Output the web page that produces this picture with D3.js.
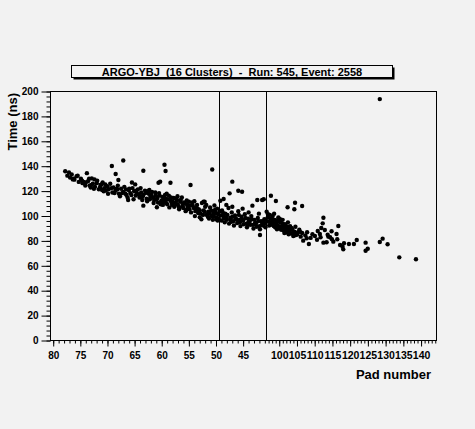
<!DOCTYPE html>
<html><head><meta charset="utf-8">
<script src="https://cdn.jsdelivr.net/npm/d3@7"></script>
<style>
html,body{margin:0;padding:0;background:#f2f2f2;}
svg{display:block;font-family:"Liberation Sans",Arial,Helvetica,sans-serif;}
</style></head>
<body>
<svg id="c" width="475" height="429"></svg>
<script>
// ---- data ----
const titleText = "ARGO-YBJ  (16 Clusters)  -  Run: 545, Event: 2558";
const yTitle = "Time (ns)";
const xTitle = "Pad number";
const yTicks = [0,20,40,60,80,100,120,140,160,180,200];
const leftTicks = [80,75,70,65,60,55,50,45];
const rightTicks = [100,105,110,115,120,125,130,135,140];
const leftDomain = [80.5, 40.6];
const rightDomain = [96.55, 144.35];
const yDomain = [0, 200];
const dividerPads = [49.3];

// left section (pads decreasing)
const leftPads = [
77.7,77.3,76.8,76.5,76.0,75.6,75.2,74.8,73.7,
74.5,74.0,73.5,73.0,72.6,72.2,71.8,71.5,71.2,70.8,70.5,70.2,72.8,72.3,
71.0,70.6,70.0,69.7,69.4,69.0,68.8,68.4,68.0,67.8,67.4,67.0,66.8,66.4,66.0,65.7,65.3,
69.1,67.0,68.4,67.9,66.1,
65.0,64.7,64.3,64.0,63.7,63.3,63.0,62.7,62.3,62.0,61.7,61.3,61.0,60.7,60.4,60.0,
64.5,63.5,62.5,61.5,60.6,65.4,64.8,63.3,63.3,60.5,60.2,60.8,
59.8,59.5,59.2,58.9,58.6,58.3,58.0,57.7,57.4,57.1,56.8,56.5,56.2,55.9,55.6,55.3,55.0,54.7,
59.0,58.1,57.0,56.0,55.4,59.4,59.2,58.3,54.6,
54.3,54.0,53.7,53.4,53.1,52.8,52.5,52.2,51.9,51.6,51.3,51.0,50.7,50.4,50.1,49.8,49.5,49.2,
53.9,52.9,52.0,51.2,50.2,49.6,50.6,52.2,49.1,
48.8,48.5,48.2,47.9,47.6,47.3,47.0,46.7,46.4,46.1,45.8,45.5,45.2,44.9,44.6,44.3,44.0,43.7,43.4,43.1,42.8,42.5,42.2,41.9,41.6,41.3,41.0,40.8,
48.0,46.9,45.0,43.9,42.0,
46.9,45.8,45.1,47.4,42.3,41.4,41.1,43.2,48.5,41.8,
76.2,74.3,73.2,69.9,68.2,66.6,63.9,62.1,59.6,57.9,56.7,55.1,53.2,51.5,50.5,49.9,48.4,47.1,45.6,44.1,42.7,41.2,
65.9,65.5,65.1,64.6,64.2,63.8,63.4,62.9,62.6,62.2,61.8,61.4,61.1,60.9,60.3,60.1,
59.9,59.7,59.3,59.1,58.8,58.5,58.2,57.9,57.6,57.3,57.0,56.7,56.4,56.1,55.8,55.5,55.2,54.9,
54.8,54.5,54.2,53.8,53.5,53.2,52.9,52.6,52.3,52.0,51.7,51.4,51.1,50.8,50.5,50.3,49.9,49.7,49.4,49.1,
48.9,48.6,48.3,48.1,47.8,47.5,47.2,46.9,46.6,46.3,46.0,45.7,45.4,45.1,44.8,44.5,44.2,43.9,43.6,43.3,43.0,42.7,42.4,42.1,41.8,41.5,41.2,40.9,
77.0,76.3,75.4,74.6,73.9,73.3,72.9,72.4,71.9,71.3,70.9,70.3,69.8,69.2,68.6,68.1,67.6,67.2,66.5,66.2
];
const leftTimes = [
135.5,132.0,130.5,133.0,128.8,131.5,127.0,129.5,134.0,
126.0,124.0,127.5,122.5,125.5,123.0,128.0,121.0,124.5,126.5,122.0,120.0,129.8,129.0,
125.0,119.5,123.5,121.0,125.5,118.5,122.5,120.0,124.0,117.5,121.5,119.0,123.0,116.5,120.5,118.0,122.0,
139.8,144.2,133.3,128.5,112.4,
119.5,116.0,121.0,114.5,118.5,116.5,120.0,113.5,117.5,115.0,119.0,112.5,116.0,114.0,118.0,111.5,
118.0,112.5,119.5,114.5,110.5,126.5,125.0,136.0,107.9,126.3,127.2,106.6,
115.0,111.0,113.5,109.0,116.0,112.0,108.5,114.0,110.0,112.5,107.5,111.0,114.5,106.0,109.5,112.0,105.5,108.0,
117.5,110.5,115.5,109.0,104.5,140.8,135.7,126.3,124.5,
110.5,106.0,103.5,108.5,105.0,101.5,110.0,104.0,107.0,100.5,103.0,106.5,99.5,102.0,104.5,98.5,101.0,103.5,
111.5,98.5,111.0,97.5,108.0,96.0,137.0,111.1,111.9,
104.0,99.0,101.5,96.5,106.0,98.0,102.5,95.5,100.0,97.0,103.5,94.5,99.0,96.0,101.0,93.5,97.5,95.0,99.5,92.5,96.5,94.0,98.0,91.5,95.5,93.0,97.0,90.5,
108.5,107.0,105.5,102.5,101.5,
127.2,119.9,119.1,117.8,112.4,112.4,113.0,107.9,113.3,84.3,
129.5,127.0,124.0,123.0,121.5,117.5,115.5,113.0,112.5,110.0,106.5,107.0,104.5,101.0,100.0,97.0,97.5,95.0,96.5,92.5,93.0,92.0,
121.5,116.5,113.0,120.0,117.0,122.0,115.5,118.0,111.5,120.5,116.5,110.0,118.5,113.0,116.0,109.0,
112.0,108.5,116.5,110.0,113.0,106.5,114.5,111.0,107.0,113.5,109.0,105.0,112.5,107.0,110.5,103.5,108.5,111.0,
105.0,102.5,108.0,99.5,106.0,102.0,104.0,97.0,100.5,103.0,108.5,99.0,101.5,104.0,96.5,99.5,102.0,105.5,97.5,100.0,
96.0,102.0,94.5,98.5,100.5,93.5,96.5,99.0,92.0,97.5,94.0,100.5,91.5,96.5,93.0,98.0,90.5,95.0,92.5,97.0,89.5,94.0,91.0,95.5,89.0,92.5,95.0,93.5,
134.5,129.0,132.0,128.0,126.5,129.5,124.5,121.5,126.0,122.5,120.5,125.0,117.5,122.0,118.0,121.0,115.5,118.0,121.0,114.5
];

// right section (pads increasing)
const rightPads = [
96.6,96.9,97.2,97.5,97.8,98.1,98.4,98.7,99.0,99.3,99.6,99.9,100.2,100.5,100.8,101.1,101.4,101.7,102.0,102.3,102.6,102.9,103.2,103.5,103.8,104.1,104.4,104.7,105.0,105.4,105.8,106.2,106.6,
97.8,99.2,102.5,104.6,104.4,106.6,
106.0,105.2,107.9,106.9,108.5,110.2,111.6,112.6,112.4,113.0,114.9,116.3,114.0,114.5,116.8,
112.6,113.5,115.4,116.5,117.3,118.0,118.2,118.4,119.8,121.2,122.0,124.5,124.5,125.1,
128.5,129.3,130.7,134.0,138.7,128.5,
107.5,108.0,109.0,109.5,110.8,111.0,111.8,112.0,113.8,115.0,
96.7,97.0,97.3,97.7,98.0,98.3,98.6,98.9,99.2,99.5,99.8,100.1,100.4,100.7,101.0,101.3,101.6,101.9,102.2,102.5,102.8,103.1,103.6,104.0,104.5
];
const rightTimes = [
103.0,98.5,95.0,100.5,92.5,97.0,94.0,101.5,90.5,96.0,92.0,98.5,89.5,94.5,91.0,96.5,88.0,93.0,90.0,86.5,94.5,88.5,91.5,85.5,89.0,83.5,87.0,91.0,84.5,86.5,88.5,83.0,86.0,
115.9,111.6,106.6,110.3,105.0,107.6,
87.0,85.0,81.7,79.8,77.1,83.5,85.1,98.2,93.7,88.4,87.3,85.1,83.0,82.5,91.6,
78.2,78.5,79.0,80.9,76.3,74.9,72.8,77.7,77.1,77.1,80.3,78.2,71.7,73.3,
78.7,81.4,76.9,66.4,64.8,193.5,
84.0,86.5,82.0,85.0,80.5,87.5,82.5,90.0,84.5,81.0,
95.5,101.0,92.0,97.5,94.5,99.5,91.5,96.5,93.5,89.0,95.0,91.5,97.0,88.5,93.5,90.5,86.0,92.5,88.5,91.0,85.0,87.5,90.0,86.0,84.0
];

// ---- layout ----
const W = 475, H = 429;
const frame = {l:50, r:436, t:91, b:340};
const splitX = 266.5;
const svg = d3.select("#c");
const bg = "#f2f2f2";

svg.append("rect").attr("width",W).attr("height",H).attr("fill",bg);

const xL = d3.scaleLinear().domain(leftDomain).range([frame.l, splitX]);
const xR = d3.scaleLinear().domain(rightDomain).range([splitX, frame.r]);
const y = d3.scaleLinear().domain(yDomain).range([frame.b, frame.t]);

// frame
svg.append("rect").attr("x",frame.l+0.5).attr("y",frame.t+0.5)
  .attr("width",frame.r-frame.l).attr("height",frame.b-frame.t)
  .attr("fill",bg).attr("stroke","#000").attr("stroke-width",1);

// divider lines
dividerPads.forEach(p=>{
  const xx = Math.round(xL(p))+0.5;
  svg.append("line").attr("x1",xx).attr("x2",xx).attr("y1",frame.t).attr("y2",frame.b)
    .attr("stroke","#000").attr("stroke-width",1);
});
svg.append("line").attr("x1",splitX).attr("x2",splitX).attr("y1",frame.t).attr("y2",frame.b)
  .attr("stroke","#000").attr("stroke-width",1);

// axes
function styleAxis(g){
  g.select(".domain").remove();
  g.selectAll("text").attr("font-family","'Liberation Sans',Arial,sans-serif")
   .attr("font-weight","bold").attr("font-size",10).attr("fill","#000");
  g.selectAll("line").attr("stroke","#000");
}
const yMinor = d3.range(0,201,4);
svg.append("g").attr("transform",`translate(${frame.l+0.5},0.5)`)
  .call(d3.axisLeft(y).tickValues(yMinor).tickSize(4).tickFormat(""))
  .call(styleAxis);
svg.append("g").attr("transform",`translate(${frame.l+0.5},0.5)`)
  .call(d3.axisLeft(y).tickValues(yTicks).tickSize(9).tickPadding(3).tickFormat(d3.format("d")))
  .call(styleAxis);

const leftMinor = d3.range(41,81,1);
const rightMinor = d3.range(97,145,1);
svg.append("g").attr("transform",`translate(0.5,${frame.b+0.5})`)
  .call(d3.axisBottom(xL).tickValues(leftMinor).tickSize(3).tickFormat(""))
  .call(styleAxis);
svg.append("g").attr("transform",`translate(0.5,${frame.b+0.5})`)
  .call(d3.axisBottom(xL).tickValues(leftTicks).tickSize(6).tickPadding(5).tickFormat(d3.format("d")))
  .call(styleAxis);
svg.append("g").attr("transform",`translate(0.5,${frame.b+0.5})`)
  .call(d3.axisBottom(xR).tickValues(rightMinor).tickSize(3).tickFormat(""))
  .call(styleAxis);
svg.append("g").attr("transform",`translate(0.5,${frame.b+0.5})`)
  .call(d3.axisBottom(xR).tickValues(rightTicks).tickSize(6).tickPadding(5).tickFormat(d3.format("d")))
  .call(styleAxis)
  .selectAll("text").attr("font-size",10.5);

// points
const pts = leftPads.map((p,i)=>({x:xL(p), y:y(leftTimes[i])}))
  .concat(rightPads.map((p,i)=>({x:xR(p), y:y(rightTimes[i])})));
svg.append("g").selectAll("circle").data(pts).join("circle")
  .attr("cx",d=>d.x).attr("cy",d=>d.y).attr("r",2.2).attr("fill","#000");

// title box
const tb = {x:71.5, y:65.5, w:321, h:12};
svg.append("rect").attr("x",tb.x+2).attr("y",tb.y+2).attr("width",tb.w).attr("height",tb.h).attr("fill","#000");
svg.append("rect").attr("x",tb.x).attr("y",tb.y).attr("width",tb.w).attr("height",tb.h)
  .attr("fill",bg).attr("stroke","#000").attr("stroke-width",1);
svg.append("text").attr("x",tb.x+tb.w/2).attr("y",75.5).attr("text-anchor","middle")
  .attr("font-weight","bold").attr("font-size",11).style("white-space","pre").text(titleText);

// axis titles
svg.append("text").attr("transform","translate(16.5,93) rotate(-90)").attr("text-anchor","end")
  .attr("font-weight","bold").attr("font-size",13).text(yTitle);
svg.append("text").attr("x",431).attr("y",378.5).attr("text-anchor","end")
  .attr("font-weight","bold").attr("font-size",13).text(xTitle);
</script>
</body></html>
